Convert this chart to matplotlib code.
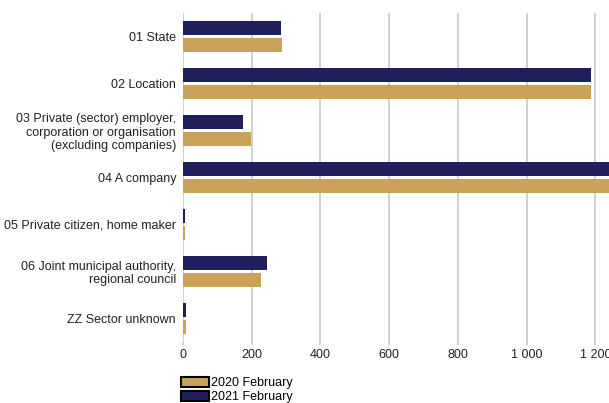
import numpy as np
import matplotlib.pyplot as plt
from matplotlib.patches import Patch
import matplotlib.ticker as ticker

plt.rcParams["font.family"] = ["Liberation Sans", "DejaVu Sans"]

# Categories (top to bottom)
categories = [
    "01 State",
    "02 Location",
    "03 Private (sector) employer,\ncorporation or organisation\n(excluding companies)",
    "04 A company",
    "05 Private citizen, home maker",
    "06 Joint municipal authority,\nregional council",
    "ZZ Sector unknown",
]
values_2021 = [285, 1187, 174, 1262, 6, 244, 9]
values_2020 = [288, 1187, 198, 1258, 6, 227, 9]

navy = "#201f5b"
gold = "#cba259"

fig = plt.figure(figsize=(6.09, 4.03), dpi=100)
ax = fig.add_axes([183 / 609, 1 - 342 / 403, 1 - 183 / 609, 329 / 403])

y = np.arange(len(categories))
h = 0.3
ax.barh(y - h / 2 - 0.03, values_2021, height=h, color=navy)
ax.barh(y + h / 2 + 0.03, values_2020, height=h, color=gold)

ax.set_ylim(len(categories) - 0.5, -0.5)
ax.set_xlim(0, 1240)
ax.set_yticks(y)
ax.set_yticklabels(categories, fontsize=9, color="#222222", linespacing=1.12)
ax.tick_params(axis="y", length=0, pad=5)

ax.set_xticks(range(0, 1201, 200))
ax.xaxis.set_major_formatter(ticker.FuncFormatter(
    lambda v, p: f"{int(v):,}".replace(",", " ")))
ax.tick_params(axis="x", labelsize=9, colors="#222222", length=2,
               color="#c8c8c8", width=1.2, pad=3)

ax.grid(True, axis="x", color="#c8c8c8", linewidth=1.2)
ax.set_axisbelow(True)
for s in ax.spines.values():
    s.set_visible(False)

handles = [
    Patch(facecolor=gold, edgecolor="black", linewidth=1.5, label="2020 February"),
    Patch(facecolor=navy, edgecolor="black", linewidth=1.5, label="2021 February"),
]
fig.legend(handles=handles, loc="upper left", bbox_to_anchor=(181 / 609, 1 - 377 / 403),
           frameon=False, fontsize=9, handlelength=2.2, handleheight=0.8,
           handletextpad=0.2, labelspacing=0.15, borderpad=0, borderaxespad=0)

fig.savefig("out.png", dpi=100)
